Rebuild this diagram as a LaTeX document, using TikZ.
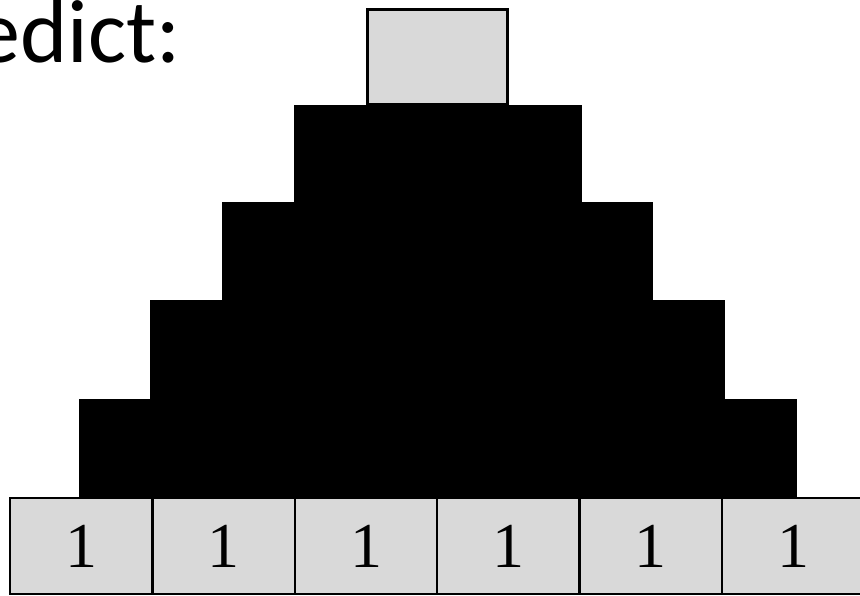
\documentclass[tikz,border=0pt]{standalone}
\usepackage{fontspec}
\setmainfont{Liberation Serif}
\newfontfamily\calibrifont{Carlito}
\definecolor{cellgray}{HTML}{D9D9D9}
\begin{document}
\begin{tikzpicture}[x=1pt,y=1pt,
  cell/.style={draw=black, line width=2.5pt, fill=cellgray, minimum width=142.4pt,
    minimum height=96pt, inner sep=0pt, outer sep=0pt, font=\fontsize{64}{64}\selectfont},
  blk/.style={fill=black, draw=black, line width=0.5pt, minimum width=143.4pt,
    minimum height=98pt, inner sep=0pt, outer sep=0pt},
  topcell/.style={draw=black, line width=3pt, fill=cellgray, minimum width=140pt,
    minimum height=95pt, inner sep=0pt, outer sep=0pt},
  title/.style={font=\calibrifont\fontsize{90}{90}\selectfont, inner sep=0pt, anchor=base west}]
\useasboundingbox (0,0) rectangle (860,596);
% black pyramid rows
\foreach \k/\yc in {1/148, 2/247, 3/344.5, 4/442}{
  \pgfmathtruncatemacro{\n}{6-\k}
  \foreach \j in {1,...,\n}{
    \node[blk] (b\k-\j) at ({437.5 - \n*71.7 + (\j-0.5)*143.4}, \yc) {};
  }
}
% bottom row of cells
\foreach \i in {1,...,6}{
  \node[cell] (c\i) at ({10 + (\i-0.5)*142.4}, 50) {1};
}
% top cell
\node[topcell] (top) at (437.5, 539) {};
% title
\node[title] (ttl) at (-24.5, 533) {edict:};
\end{tikzpicture}
\end{document}
